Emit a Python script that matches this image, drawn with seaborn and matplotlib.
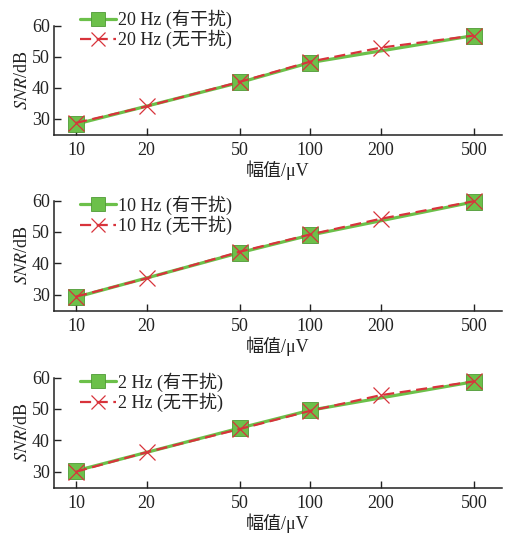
import numpy as np
import pandas as pd
import matplotlib
matplotlib.use("Agg")
import matplotlib.pyplot as plt
import seaborn as sns

sns.set_theme(style="ticks")
plt.rcParams['font.family'] = ['Liberation Serif', 'Noto Sans CJK SC']
plt.rcParams['mathtext.fontset'] = 'stix'

# data
amp_noise = [10, 50, 100, 500]
amp_clean = [10, 20, 50, 100, 200, 500]
freqs = ["20 Hz", "10 Hz", "2 Hz"]
snr_noise_20 = [28.3, 41.7, 48.1, 56.8]
snr_clean_20 = [28.7, 34.0, 41.9, 48.4, 52.9, 56.8]
snr_noise_10 = [29.2, 43.4, 49.0, 59.6]
snr_clean_10 = [29.4, 35.2, 43.7, 49.2, 54.2, 59.8]
snr_noise_2 = [30.3, 43.9, 49.6, 58.7]
snr_clean_2 = [30.0, 36.2, 43.6, 49.4, 54.4, 58.8]
xticks = [10, 20, 50, 100, 200, 500]
yticks = [30, 40, 50, 60]

noise_sets = [snr_noise_20, snr_noise_10, snr_noise_2]
clean_sets = [snr_clean_20, snr_clean_10, snr_clean_2]

W, H = 506, 537
fig = plt.figure(figsize=(W / 100, H / 100), dpi=100)

panels = [(25, 135), (200, 311), (377, 488)]
leg_tops = [1.255, 1.155, 1.155]

green = "#6cc04a"
green_edge = "#4f9a35"
red = "#d8333b"
txt = "#222222"

for i, (top, bot) in enumerate(panels):
    ax = fig.add_axes([54 / W, (H - bot) / H, 448 / W, (bot - top) / H])
    dfn = pd.DataFrame({"amp": amp_noise, "snr": noise_sets[i]})
    dfc = pd.DataFrame({"amp": amp_clean, "snr": clean_sets[i]})
    sns.lineplot(data=dfn, x="amp", y="snr", ax=ax, color=green, lw=2.3,
                 marker="s", markersize=12, markerfacecolor=green,
                 markeredgecolor=green_edge, markeredgewidth=0.6,
                 label=f"{freqs[i]} (有干扰)", clip_on=False)
    sns.lineplot(data=dfc, x="amp", y="snr", ax=ax, color=red, lw=1.6,
                 linestyle=(0, (5, 2.5)), marker="x", markersize=12,
                 markeredgewidth=0.9, markeredgecolor=red,
                 label=f"{freqs[i]} (无干扰)", clip_on=False)
    ax.set_xscale("log")
    ax.set_xlim(8.05, 660)
    ax.set_ylim(24.8, 60.2)
    ax.set_xticks(xticks)
    ax.set_xticklabels([str(v) for v in xticks])
    ax.minorticks_off()
    ax.set_yticks(yticks)
    ax.tick_params(direction="in", length=5, width=1, labelsize=13,
                   colors=txt, pad=5)
    ax.tick_params(axis="y", pad=3)
    for s in ["top", "right"]:
        ax.spines[s].set_visible(False)
    for s in ["left", "bottom"]:
        ax.spines[s].set_color(txt)
        ax.spines[s].set_linewidth(1.1)
    ax.spines["left"].set_bounds(24.8, 60)
    ax.set_xlabel("幅值/μV", fontsize=13, labelpad=1, color=txt)
    ax.set_ylabel(r"$\mathit{SNR}$/dB", fontsize=13, labelpad=1, color=txt)
    leg = ax.legend(loc="upper left", bbox_to_anchor=(0.03, leg_tops[i]),
                    frameon=False, fontsize=13, handlelength=2.0,
                    handletextpad=0.1, labelspacing=0.05, borderpad=0.2,
                    markerscale=0.85)
    for t in leg.get_texts():
        t.set_color(txt)

fig.savefig("out.png", dpi=100)
